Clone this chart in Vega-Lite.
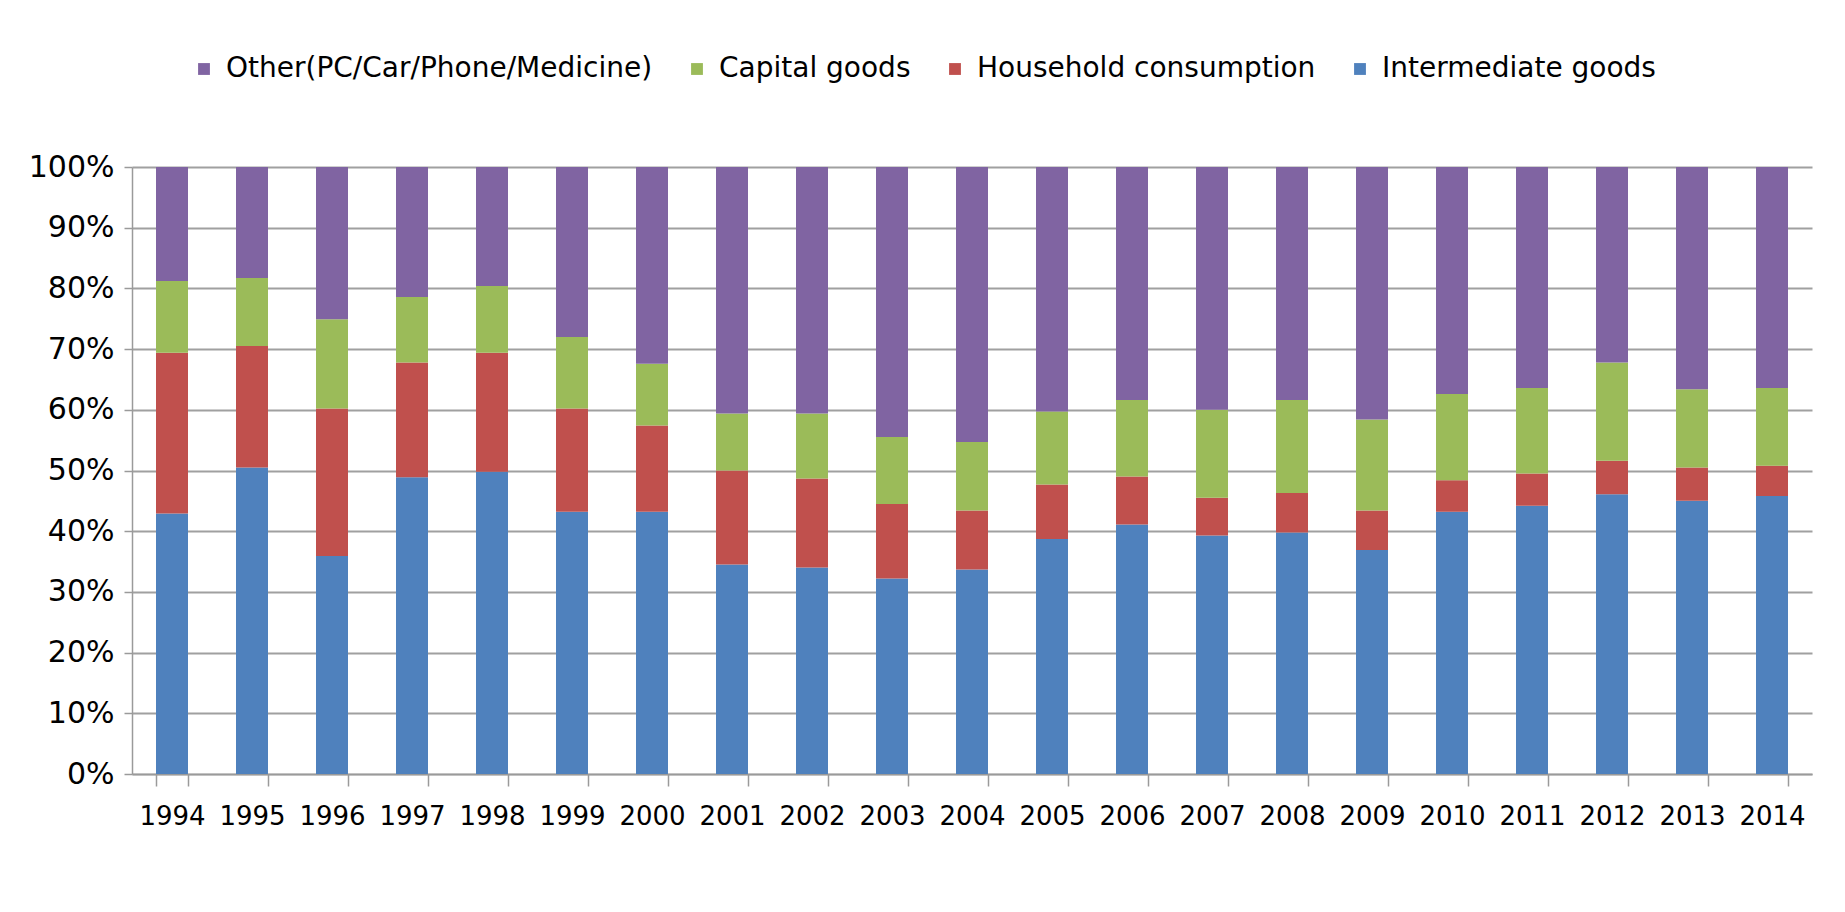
{
  "$schema": "https://vega.github.io/schema/vega-lite/v6.json",
  "width": 1845,
  "height": 912,
  "autosize": {"type": "fit", "contains": "padding"},
  "padding": {"left": 28, "top": 152, "right": 33, "bottom": 83},
  "background": "white",
  "config": {
    "font": "DejaVu Sans",
    "view": {"stroke": null}
  },
  "data": {
    "values": [
      {"year":"1994","cat":"Intermediate goods","v":42.9},{"year":"1994","cat":"Household consumption","v":26.5},{"year":"1994","cat":"Capital goods","v":11.8},{"year":"1994","cat":"Other(PC/Car/Phone/Medicine)","v":18.8},
      {"year":"1995","cat":"Intermediate goods","v":50.5},{"year":"1995","cat":"Household consumption","v":20.0},{"year":"1995","cat":"Capital goods","v":11.2},{"year":"1995","cat":"Other(PC/Car/Phone/Medicine)","v":18.3},
      {"year":"1996","cat":"Intermediate goods","v":35.9},{"year":"1996","cat":"Household consumption","v":24.3},{"year":"1996","cat":"Capital goods","v":14.7},{"year":"1996","cat":"Other(PC/Car/Phone/Medicine)","v":25.1},
      {"year":"1997","cat":"Intermediate goods","v":48.9},{"year":"1997","cat":"Household consumption","v":18.9},{"year":"1997","cat":"Capital goods","v":10.8},{"year":"1997","cat":"Other(PC/Car/Phone/Medicine)","v":21.4},
      {"year":"1998","cat":"Intermediate goods","v":49.8},{"year":"1998","cat":"Household consumption","v":19.6},{"year":"1998","cat":"Capital goods","v":11.0},{"year":"1998","cat":"Other(PC/Car/Phone/Medicine)","v":19.6},
      {"year":"1999","cat":"Intermediate goods","v":43.2},{"year":"1999","cat":"Household consumption","v":17.0},{"year":"1999","cat":"Capital goods","v":11.8},{"year":"1999","cat":"Other(PC/Car/Phone/Medicine)","v":28.0},
      {"year":"2000","cat":"Intermediate goods","v":43.2},{"year":"2000","cat":"Household consumption","v":14.2},{"year":"2000","cat":"Capital goods","v":10.2},{"year":"2000","cat":"Other(PC/Car/Phone/Medicine)","v":32.4},
      {"year":"2001","cat":"Intermediate goods","v":34.5},{"year":"2001","cat":"Household consumption","v":15.5},{"year":"2001","cat":"Capital goods","v":9.4},{"year":"2001","cat":"Other(PC/Car/Phone/Medicine)","v":40.6},
      {"year":"2002","cat":"Intermediate goods","v":34.0},{"year":"2002","cat":"Household consumption","v":14.7},{"year":"2002","cat":"Capital goods","v":10.7},{"year":"2002","cat":"Other(PC/Car/Phone/Medicine)","v":40.6},
      {"year":"2003","cat":"Intermediate goods","v":32.2},{"year":"2003","cat":"Household consumption","v":12.3},{"year":"2003","cat":"Capital goods","v":11.0},{"year":"2003","cat":"Other(PC/Car/Phone/Medicine)","v":44.5},
      {"year":"2004","cat":"Intermediate goods","v":33.7},{"year":"2004","cat":"Household consumption","v":9.7},{"year":"2004","cat":"Capital goods","v":11.3},{"year":"2004","cat":"Other(PC/Car/Phone/Medicine)","v":45.3},
      {"year":"2005","cat":"Intermediate goods","v":38.7},{"year":"2005","cat":"Household consumption","v":9.0},{"year":"2005","cat":"Capital goods","v":12.0},{"year":"2005","cat":"Other(PC/Car/Phone/Medicine)","v":40.3},
      {"year":"2006","cat":"Intermediate goods","v":41.1},{"year":"2006","cat":"Household consumption","v":7.9},{"year":"2006","cat":"Capital goods","v":12.6},{"year":"2006","cat":"Other(PC/Car/Phone/Medicine)","v":38.4},
      {"year":"2007","cat":"Intermediate goods","v":39.3},{"year":"2007","cat":"Household consumption","v":6.2},{"year":"2007","cat":"Capital goods","v":14.5},{"year":"2007","cat":"Other(PC/Car/Phone/Medicine)","v":40.0},
      {"year":"2008","cat":"Intermediate goods","v":39.8},{"year":"2008","cat":"Household consumption","v":6.5},{"year":"2008","cat":"Capital goods","v":15.3},{"year":"2008","cat":"Other(PC/Car/Phone/Medicine)","v":38.4},
      {"year":"2009","cat":"Intermediate goods","v":36.9},{"year":"2009","cat":"Household consumption","v":6.5},{"year":"2009","cat":"Capital goods","v":15.0},{"year":"2009","cat":"Other(PC/Car/Phone/Medicine)","v":41.6},
      {"year":"2010","cat":"Intermediate goods","v":43.2},{"year":"2010","cat":"Household consumption","v":5.2},{"year":"2010","cat":"Capital goods","v":14.2},{"year":"2010","cat":"Other(PC/Car/Phone/Medicine)","v":37.4},
      {"year":"2011","cat":"Intermediate goods","v":44.2},{"year":"2011","cat":"Household consumption","v":5.3},{"year":"2011","cat":"Capital goods","v":14.1},{"year":"2011","cat":"Other(PC/Car/Phone/Medicine)","v":36.4},
      {"year":"2012","cat":"Intermediate goods","v":46.1},{"year":"2012","cat":"Household consumption","v":5.5},{"year":"2012","cat":"Capital goods","v":16.2},{"year":"2012","cat":"Other(PC/Car/Phone/Medicine)","v":32.2},
      {"year":"2013","cat":"Intermediate goods","v":45.0},{"year":"2013","cat":"Household consumption","v":5.5},{"year":"2013","cat":"Capital goods","v":12.9},{"year":"2013","cat":"Other(PC/Car/Phone/Medicine)","v":36.6},
      {"year":"2014","cat":"Intermediate goods","v":45.8},{"year":"2014","cat":"Household consumption","v":5.0},{"year":"2014","cat":"Capital goods","v":12.8},{"year":"2014","cat":"Other(PC/Car/Phone/Medicine)","v":36.4}
    ]
  },
  "transform": [
    {"calculate": "indexof(['Intermediate goods','Household consumption','Capital goods','Other(PC/Car/Phone/Medicine)'], datum.cat)", "as": "ord"}
  ],
  "mark": {"type": "bar"},
  "encoding": {
    "x": {
      "field": "year", "type": "ordinal", "title": null,
      "scale": {"paddingInner": 0.6, "paddingOuter": 0.3},
      "axis": {
        "labelAngle": 0, "labelFontSize": 26, "labelColor": "#000000",
        "tickBand": "extent", "tickSize": 12, "tickColor": "#9a9a9a", "tickWidth": 1.5,
        "domainColor": "#9a9a9a", "domainWidth": 1.5, "labelPadding": 17, "grid": false
      }
    },
    "y": {
      "field": "v", "type": "quantitative", "stack": "normalize", "title": null,
      "scale": {"domain": [0, 1], "nice": false},
      "axis": {
        "values": [0,0.1,0.2,0.3,0.4,0.5,0.6,0.7,0.8,0.9,1],
        "format": ".0%", "labelFontSize": 30, "labelColor": "#000000",
        "tickSize": 8, "tickColor": "#9a9a9a", "tickWidth": 1.5, "labelPadding": 10,
        "domain": true, "domainColor": "#9a9a9a", "domainWidth": 1.5,
        "grid": true, "gridColor": "#a0a0a0", "gridWidth": 2
      }
    },
    "color": {
      "field": "cat", "type": "nominal",
      "scale": {
        "domain": ["Other(PC/Car/Phone/Medicine)", "Capital goods", "Household consumption", "Intermediate goods"],
        "range": ["#8064A2", "#9BBB59", "#C0504D", "#4F81BD"]
      },
      "legend": {
        "orient": "none", "legendX": 58, "legendY": -112, "direction": "horizontal", "title": null,
        "symbolType": "square", "symbolSize": 140, "symbolStrokeWidth": 0,
        "labelFontSize": 28, "labelColor": "#000000", "labelOffset": 8,
        "columnPadding": 30, "labelLimit": 0
      }
    },
    "order": {"field": "ord", "type": "quantitative"}
  }
}
